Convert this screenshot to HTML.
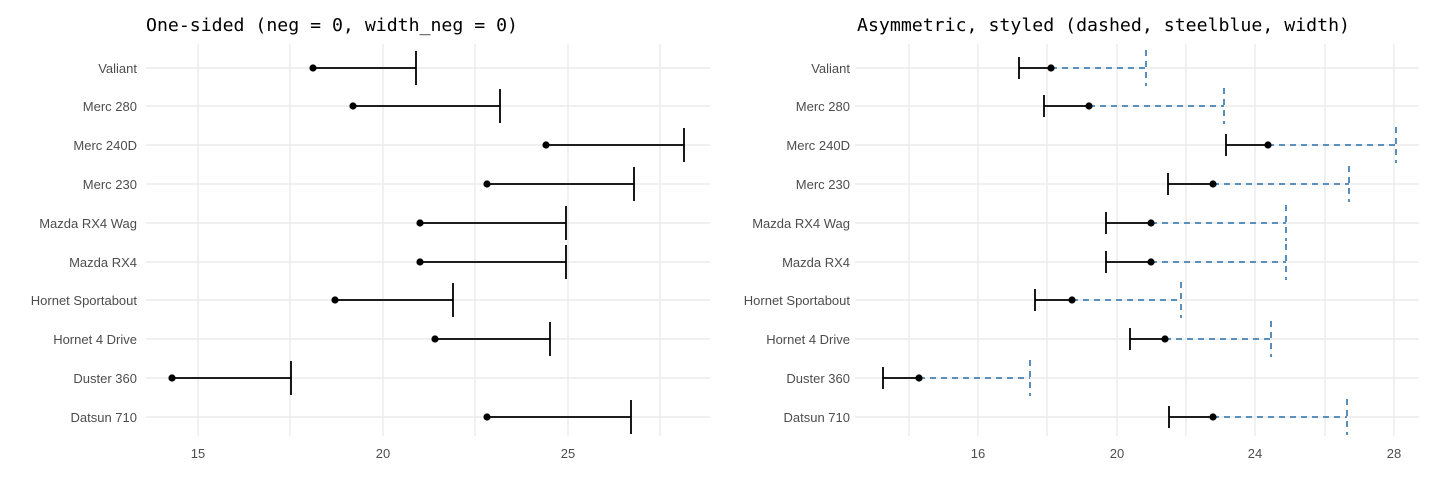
<!DOCTYPE html>
<html><head><style>body{margin:0;background:#fff}svg{display:block}</style></head><body>
<svg width="1440" height="480" xmlns="http://www.w3.org/2000/svg">
<rect width="1440" height="480" fill="#fff"/>
<g stroke="#ebebeb" stroke-width="1.4">
<line x1="198" y1="44" x2="198" y2="436"/><line x1="290" y1="44" x2="290" y2="436"/><line x1="383" y1="44" x2="383" y2="436"/><line x1="475" y1="44" x2="475" y2="436"/><line x1="568" y1="44" x2="568" y2="436"/><line x1="660" y1="44" x2="660" y2="436"/>
<line x1="909" y1="44" x2="909" y2="436"/><line x1="978" y1="44" x2="978" y2="436"/><line x1="1047" y1="44" x2="1047" y2="436"/><line x1="1117" y1="44" x2="1117" y2="436"/><line x1="1186" y1="44" x2="1186" y2="436"/><line x1="1255" y1="44" x2="1255" y2="436"/><line x1="1325" y1="44" x2="1325" y2="436"/><line x1="1394" y1="44" x2="1394" y2="436"/>
<g id="h">
<line x1="146" y1="68" x2="710" y2="68"/><line x1="146" y1="106" x2="710" y2="106"/><line x1="146" y1="145" x2="710" y2="145"/><line x1="146" y1="184" x2="710" y2="184"/><line x1="146" y1="223" x2="710" y2="223"/><line x1="146" y1="262" x2="710" y2="262"/><line x1="146" y1="300" x2="710" y2="300"/><line x1="146" y1="339" x2="710" y2="339"/><line x1="146" y1="378" x2="710" y2="378"/><line x1="146" y1="417" x2="710" y2="417"/>
</g>
<use href="#h" transform="translate(709,0)"/>
</g>
<g font-family="DejaVu Sans Mono, Liberation Mono, monospace" font-size="17.8" fill="#000">
<text x="146" y="31" textLength="372" lengthAdjust="spacingAndGlyphs">One-sided (neg = 0, width_neg = 0)</text>
<text x="857" y="31" textLength="493" lengthAdjust="spacingAndGlyphs">Asymmetric, styled (dashed, steelblue, width)</text>
</g>
<g font-family="Liberation Sans, sans-serif" font-size="13" fill="#4d4d4d" text-anchor="end">
<g id="lab">
<text x="137" y="73">Valiant</text><text x="137" y="111">Merc 280</text><text x="137" y="150">Merc 240D</text><text x="137" y="189">Merc 230</text><text x="137" y="228">Mazda RX4 Wag</text><text x="137" y="267">Mazda RX4</text><text x="137" y="305">Hornet Sportabout</text><text x="137" y="344">Hornet 4 Drive</text><text x="137" y="383">Duster 360</text><text x="137" y="422">Datsun 710</text>
</g>
<use href="#lab" transform="translate(713,0)"/>
</g>
<g font-family="Liberation Sans, sans-serif" font-size="13" fill="#4d4d4d" text-anchor="middle">
<text x="198" y="458">15</text><text x="383" y="458">20</text><text x="568" y="458">25</text>
<text x="978" y="458">16</text><text x="1117" y="458">20</text><text x="1255" y="458">24</text><text x="1394" y="458">28</text>
</g>
<g stroke="#000" stroke-width="1.8" fill="none">
<path d="M313 68H416M416 51V85M353 106H500M500 89V123M546 145H684M684 128V162M487 184H634M634 167V201M420 223H566M566 206V240M420 262H566M566 245V279M335 300H453M453 283V317M435 339H550M550 322V356M172 378H291M291 361V395M487 417H631M631 400V434"/>
<path d="M1019 68H1051M1019 57V79M1044 106H1089M1044 95V117M1226 145H1268M1226 134V156M1168 184H1213M1168 173V195M1106 223H1151M1106 212V234M1106 262H1151M1106 251V273M1035 300H1072M1035 289V311M1130 339H1165M1130 328V350M883 378H919M883 367V389M1169 417H1213M1169 406V428"/>
</g>
<g stroke="#4682b4" stroke-width="1.8" fill="none" stroke-dasharray="6,5">
<path d="M1051 68H1146M1146 50V86M1089 106H1224M1224 88V124M1268 145H1396M1396 127V163M1213 184H1349M1349 166V202M1151 223H1286M1286 205V241M1151 262H1286M1286 244V280M1072 300H1181M1181 282V318M1165 339H1271M1271 321V357M919 378H1030M1030 360V396M1213 417H1347M1347 399V435"/>
</g>
<g fill="#000">
<circle cx="313" cy="68" r="3.6"/><circle cx="353" cy="106" r="3.6"/><circle cx="546" cy="145" r="3.6"/><circle cx="487" cy="184" r="3.6"/><circle cx="420" cy="223" r="3.6"/><circle cx="420" cy="262" r="3.6"/><circle cx="335" cy="300" r="3.6"/><circle cx="435" cy="339" r="3.6"/><circle cx="172" cy="378" r="3.6"/><circle cx="487" cy="417" r="3.6"/>
<circle cx="1051" cy="68" r="3.6"/><circle cx="1089" cy="106" r="3.6"/><circle cx="1268" cy="145" r="3.6"/><circle cx="1213" cy="184" r="3.6"/><circle cx="1151" cy="223" r="3.6"/><circle cx="1151" cy="262" r="3.6"/><circle cx="1072" cy="300" r="3.6"/><circle cx="1165" cy="339" r="3.6"/><circle cx="919" cy="378" r="3.6"/><circle cx="1213" cy="417" r="3.6"/>
</g>
</svg>
</body></html>
